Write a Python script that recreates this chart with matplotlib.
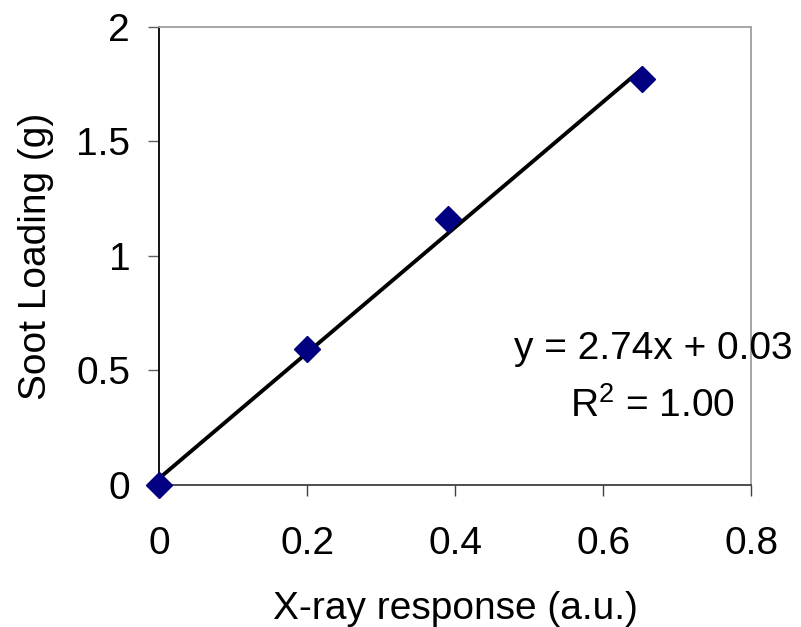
import numpy as np
import matplotlib
matplotlib.use('Agg')
import matplotlib.pyplot as plt

plt.rcParams['font.family'] = ['Liberation Sans', 'DejaVu Sans']
plt.rcParams['mathtext.fontset'] = 'custom'
plt.rcParams['mathtext.rm'] = 'Liberation Sans'
plt.rcParams['mathtext.it'] = 'Liberation Sans'

# Calibration points: X-ray response vs. soot loading
xray = [0.0, 0.2, 0.39, 0.652]
soot = [0.0, 0.595, 1.162, 1.773]

# Linear fit shown on the chart
slope = 2.74
intercept = 0.03
r_squared = 1.00

fs = 28

fig = plt.figure(figsize=(8.01, 6.27), dpi=100)
ax = fig.add_axes([0.199, 0.2265, 0.739, 0.7305])

fit_x = np.array([0.0, max(xray)])
ax.plot(fit_x, slope * fit_x + intercept, color='black', lw=2.8, zorder=2)
ax.plot(xray, soot, 'D', color='#000080', ms=13, mec='#000080', zorder=3, clip_on=False)

ax.set_xlim(0, 0.8)
ax.set_ylim(0, 2)
ax.set_xticks([0, 0.2, 0.4, 0.6, 0.8])
ax.set_xticklabels(['0', '0.2', '0.4', '0.6', '0.8'])
ax.set_yticks([0, 0.5, 1.0, 1.5, 2.0])
ax.set_yticklabels(['0', '0.5', '1', '1.5', '2'])
ax.tick_params(axis='both', direction='out', length=8, width=1, labelsize=fs)
ax.tick_params(axis='x', pad=21.5, colors='#404040', labelcolor='black')
ax.tick_params(axis='y', pad=13, colors='#606060', labelcolor='black')

ax.spines['left'].set_color('black')
ax.spines['bottom'].set_color('#404040')
ax.spines['top'].set_color('#a0a0a0')
ax.spines['right'].set_color('#a0a0a0')
for sp in ax.spines.values():
    sp.set_linewidth(1.3)

ax.set_xlabel('X-ray response (a.u.)', fontsize=fs, labelpad=21)
ax.set_ylabel('Soot Loading (g)', fontsize=fs, labelpad=16)

ax.text(0.667, 0.55, f'y = {slope:.2f}x + {intercept:.2f}', fontsize=fs,
        ha='center', va='baseline', zorder=5)
ax.text(0.667, 0.297, f'R$^2$ = {r_squared:.2f}', fontsize=fs,
        ha='center', va='baseline', zorder=5)

fig.savefig('out.png', dpi=100)
